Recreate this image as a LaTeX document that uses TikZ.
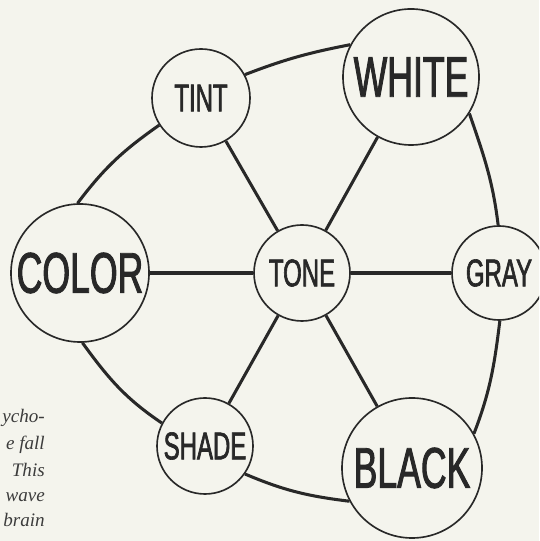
\documentclass[tikz,border=0pt]{standalone}
\usepackage{fontspec}
\newfontfamily\condfont[FakeStretch=0.62,FakeBold=1.6]{Liberation Sans}
\newfontfamily\pageserif{Liberation Serif}
\definecolor{paper}{RGB}{244,244,237}
\definecolor{ink}{RGB}{40,40,40}
\definecolor{printgray}{RGB}{60,60,60}
\tikzset{
  bignode/.style={circle, draw=ink, line width=1.4pt, fill=paper, inner sep=0pt,
    text=ink, font=\condfont\fontsize{49}{49}\selectfont},
  smallnode/.style={circle, draw=ink, line width=1.4pt, fill=paper, inner sep=0pt,
    text=ink, font=\condfont\fontsize{33}{33}\selectfont},
  link/.style={draw=ink, line width=2.6pt},
  pagetext/.style={anchor=base east, inner sep=0pt, text=printgray,
    font=\pageserif\itshape\fontsize{16.3}{20}\selectfont}
}
\begin{document}
\begin{tikzpicture}[x=0.03cm,y=0.03cm]
\useasboundingbox (0,0) rectangle (539,541);
\clip (0,0) rectangle (539,541);
\fill[paper] (0,0) rectangle (539,541);

% nodes
\node[bignode, minimum size=4.14cm] (COLOR) at (80,268) {COLOR};
\node[smallnode, minimum size=2.94cm] (TINT) at (201,443) {TINT};
\node[bignode, minimum size=4.08cm] (WHITE) at (411,464) {WHITE};
\node[smallnode, minimum size=2.88cm] (TONE) at (302,268) {TONE};
\node[smallnode, minimum size=2.82cm] (GRAY) at (499,268) {GRAY};
\node[smallnode, minimum size=2.88cm] (SHADE) at (205,95) {SHADE};
\node[bignode, minimum size=4.2cm] (BLACK) at (412,73) {BLACK};

% spokes
\draw[link] (TONE) -- (COLOR);
\draw[link] (TONE) -- (GRAY);
\draw[link] (TONE) -- (TINT);
\draw[link] (TONE) -- (WHITE);
\draw[link] (TONE) -- (SHADE);
\draw[link] (TONE) -- (BLACK);

% outer curved sides
\draw[link] (COLOR.92) to[out=53,in=215] (TINT.213);
\draw[link] (TINT.28) to[out=21,in=191] (WHITE.152);
\draw[link] (WHITE.-32) to[out=-71,in=97] (GRAY.91);
\draw[link] (GRAY.-89) to[out=-97,in=69] (BLACK.29);
\draw[link] (SHADE.-35) to[out=-23,in=173] (BLACK.208);
\draw[link] (COLOR.-88) to[out=-54,in=146] (SHADE.152);

% fragments of the page text at left
\node[pagetext] (t1) at (45,118) {ycho-};
\node[pagetext] (t2) at (45,91) {e fall};
\node[pagetext] (t3) at (45,64) {This};
\node[pagetext] (t4) at (45,39) {wave};
\node[pagetext] (t5) at (45,14) {brain};
\end{tikzpicture}
\end{document}
